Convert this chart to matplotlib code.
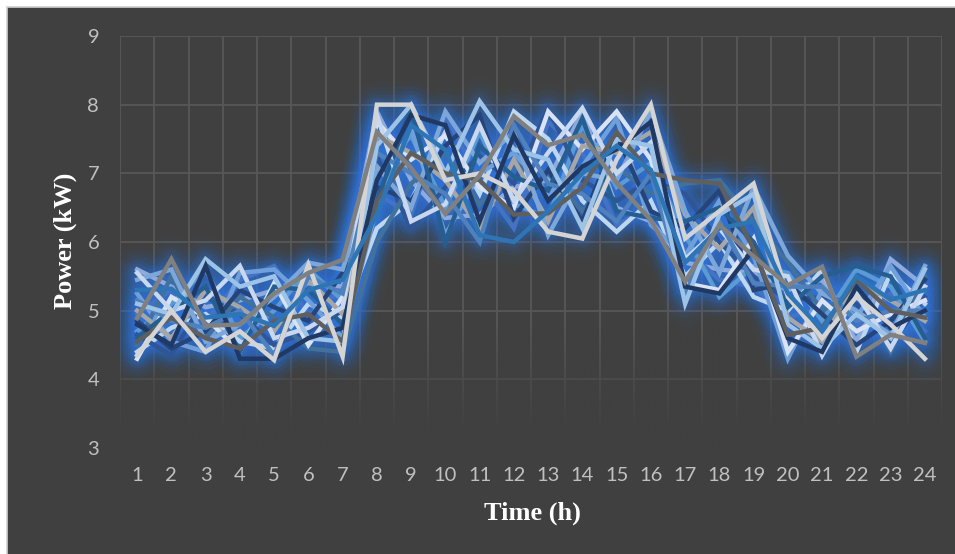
import matplotlib
matplotlib.use("Agg")
import matplotlib.pyplot as plt
import numpy as np
from matplotlib.patches import Rectangle

hours = list(range(1, 25))
x_labels = [str(h) for h in hours]
y_ticks = [3, 4, 5, 6, 7, 8, 9]

# background load profiles (blue shades)
p01 = [5.60, 5.35, 5.05, 5.15, 5.30, 5.40, 5.35, 7.90, 6.90, 6.35, 6.40, 6.80, 6.90, 7.90, 6.50, 6.30, 5.70, 5.60, 5.55, 5.30, 5.45, 4.55, 5.75, 5.35]
p02 = [4.95, 5.30, 4.85, 5.45, 5.65, 4.95, 5.30, 6.70, 6.40, 7.85, 6.90, 6.20, 7.75, 7.30, 6.25, 6.50, 5.90, 5.45, 5.35, 4.90, 5.05, 4.75, 5.25, 4.70]
p03 = [4.70, 5.10, 5.60, 4.60, 5.00, 5.60, 5.15, 7.00, 7.55, 6.50, 7.60, 6.55, 6.35, 7.70, 6.80, 7.15, 6.10, 5.20, 5.65, 5.55, 4.85, 5.60, 5.35, 4.55]
p04 = [4.40, 4.75, 4.95, 4.55, 4.45, 5.10, 4.90, 6.20, 6.60, 7.60, 6.70, 7.90, 7.50, 6.60, 6.15, 6.60, 5.50, 6.00, 5.20, 5.00, 5.60, 4.40, 5.55, 5.10]
p05 = [4.65, 4.35, 5.20, 4.95, 4.50, 4.70, 5.00, 7.25, 6.20, 6.80, 7.25, 6.85, 7.95, 6.90, 6.60, 6.90, 6.70, 6.00, 5.50, 5.15, 5.20, 5.10, 4.50, 5.20]
p06 = [5.25, 4.55, 4.40, 5.55, 5.60, 5.15, 4.60, 6.50, 7.65, 6.10, 7.00, 7.30, 6.70, 7.10, 7.80, 6.25, 5.80, 6.60, 5.80, 4.30, 5.30, 4.90, 5.65, 4.90]
p07 = [4.50, 5.50, 4.60, 5.20, 4.90, 4.45, 4.40, 6.00, 6.85, 7.30, 6.55, 7.10, 7.00, 6.45, 7.10, 6.70, 6.85, 6.90, 6.30, 5.70, 5.00, 5.30, 4.40, 5.50]
p08 = [4.30, 5.20, 4.90, 4.40, 5.40, 4.50, 5.20, 7.75, 7.20, 7.55, 6.80, 6.50, 7.90, 7.35, 7.90, 7.20, 5.40, 5.30, 6.05, 4.40, 5.15, 4.70, 4.95, 5.15]
p09 = [5.00, 4.60, 5.30, 5.05, 4.70, 5.45, 4.95, 7.55, 7.30, 6.90, 6.20, 7.20, 6.30, 7.40, 7.30, 7.60, 6.40, 5.90, 6.50, 4.90, 4.55, 5.45, 5.15, 4.85]
p10 = [4.85, 4.45, 4.70, 5.30, 5.05, 4.85, 5.55, 6.80, 6.60, 7.40, 7.85, 6.35, 7.05, 6.30, 7.55, 6.45, 6.20, 6.75, 5.30, 5.40, 4.95, 4.50, 4.85, 5.45]
p11 = [5.45, 5.60, 4.55, 4.80, 5.20, 5.70, 5.60, 7.10, 6.50, 7.90, 7.15, 7.60, 6.10, 7.00, 6.90, 7.90, 6.45, 5.55, 6.80, 5.80, 5.25, 5.00, 4.65, 5.65]
p12 = [4.60, 5.00, 5.35, 4.40, 5.35, 5.30, 4.80, 6.60, 7.95, 6.00, 7.40, 6.95, 6.75, 7.80, 6.45, 6.35, 6.30, 6.50, 6.00, 5.05, 5.50, 5.65, 5.50, 4.60]
p13 = [5.55, 5.00, 5.15, 5.65, 4.60, 4.75, 5.05, 7.85, 6.30, 6.55, 7.70, 6.60, 7.30, 7.95, 7.00, 7.45, 5.75, 6.20, 5.60, 5.50, 4.35, 5.25, 4.45, 5.35]
p14 = [5.15, 4.85, 4.75, 5.00, 4.35, 5.50, 5.25, 7.30, 7.00, 6.70, 6.00, 7.70, 6.85, 6.70, 6.30, 7.00, 5.25, 6.30, 5.40, 5.35, 5.35, 4.85, 5.00, 5.00]
p15 = [5.10, 4.95, 5.75, 5.35, 5.50, 4.60, 4.55, 7.40, 8.00, 7.00, 8.05, 7.35, 7.20, 6.20, 7.50, 7.40, 5.10, 6.40, 6.70, 4.80, 4.45, 4.95, 4.60, 5.60]
# highlighted profiles
navy = [4.80, 4.50, 5.65, 4.30, 4.30, 4.60, 4.75, 6.90, 7.85, 7.70, 6.30, 7.55, 6.60, 7.10, 7.35, 7.75, 5.35, 5.25, 5.90, 4.60, 4.40, 5.35, 4.75, 5.00]
slate = [4.55, 4.90, 4.60, 4.45, 4.85, 4.95, 4.55, 6.60, 7.30, 7.00, 6.90, 6.40, 6.42, 6.80, 7.60, 7.00, 6.90, 6.85, 5.90, 4.65, 4.75, 5.45, 5.00, 4.90]
pale = [4.35, 5.00, 4.40, 4.70, 4.28, 5.67, 4.33, 8.00, 8.00, 6.90, 7.00, 6.75, 6.15, 6.05, 7.20, 8.00, 6.05, 6.45, 6.85, 5.20, 4.60, 5.20, 4.80, 4.30]
mid_blue = [5.30, 5.32, 4.90, 4.95, 4.78, 5.30, 5.45, 6.40, 7.70, 7.34, 6.10, 6.00, 6.45, 7.00, 7.40, 7.05, 5.70, 6.20, 6.30, 5.25, 4.72, 5.50, 5.16, 5.30]
grey = [4.89, 5.75, 4.78, 4.80, 5.25, 5.55, 5.74, 7.60, 7.08, 6.41, 6.97, 7.83, 7.41, 7.56, 6.86, 6.32, 5.42, 6.25, 5.79, 5.37, 5.64, 4.33, 4.65, 4.53]

series = [p01, p02, p03, p04, p05, p06, p07, p08, p09, p10, p11, p12, p13, p14, p15,
          navy, slate, pale, mid_blue, grey]
colors = ['#8faadc', '#4472c4', '#5b9bd5', '#bdd7ee', '#2f5597', '#6fa0dc', '#41719c',
          '#dae3f3', '#a6a6a6', '#264478', '#7da7d9', '#255e91', '#c9d8ee', '#4f81bd',
          '#9dc3e6', '#203864', '#5f5f5f', '#d4d4d4', '#2e75b6', '#808080']

bg = '#404040'
fig = plt.figure(figsize=(9.55, 5.54), dpi=100, facecolor='white')
fig.patches.append(Rectangle((7 / 955, -0.05), 1.05, 1.05 - 7 / 554, transform=fig.transFigure,
                             facecolor=bg, edgecolor='#d0d0d0', linewidth=1.2, zorder=-10))

ax = fig.add_axes([120 / 955, 1 - 448 / 554, 822 / 955, 412 / 554])
ax.set_facecolor(bg)
ax.set_xlim(0.5, 24.5)
ax.set_ylim(3, 9)
for s in ax.spines.values():
    s.set_visible(False)

ax.set_xticks(hours)
ax.set_xticklabels(x_labels)
ax.set_xticks(np.arange(0.5, 25, 1), minor=True)
ax.set_yticks(y_ticks)
ax.grid(which='minor', axis='x', color='#585858', linewidth=1.3)
ax.grid(which='major', axis='y', color='#585858', linewidth=1.3)
ax.set_axisbelow(True)
ax.tick_params(which='both', length=0)
ax.tick_params(axis='x', pad=14, labelsize=14.5, labelcolor='#c0c0c0')
ax.tick_params(axis='y', pad=15, labelsize=14.5, labelcolor='#c0c0c0')
for lab in ax.get_xticklabels() + ax.get_yticklabels():
    lab.set_fontfamily('Lato')

# fade the lower part of the grid
fade = np.zeros((100, 2, 4))
fade[..., :3] = matplotlib.colors.to_rgb(bg)
fade[..., 3] = np.clip(np.linspace(1.15, 0.0, 100), 0, 0.97)[:, None]
ax.imshow(fade, extent=[0.5, 24.5, 3, 4.8], origin='lower', aspect='auto', zorder=0.8,
          interpolation='bilinear')

# glow under the lines
for lw, a in [(34, 0.025), (27, 0.035), (20, 0.05), (14, 0.07), (9, 0.09)]:
    for s in series:
        ax.plot(hours, s, color='#2f7bea', linewidth=lw, alpha=a,
                solid_joinstyle='round', solid_capstyle='round', zorder=1)

for s, c in zip(series, colors):
    ax.plot(hours, s, color=c, linewidth=3.2, solid_joinstyle='miter', zorder=3)

fig.text(65 / 955, 1 - 241 / 554, 'Power (kW)', rotation=90, ha='center', va='center',
         fontsize=19, fontweight='bold', family='Liberation Serif', color='white')
fig.text(532 / 955, 1 - 513 / 554, 'Time (h)', ha='center', va='center',
         fontsize=19, fontweight='bold', family='Liberation Serif', color='white')

fig.savefig('out.png', dpi=100, facecolor=fig.get_facecolor())
